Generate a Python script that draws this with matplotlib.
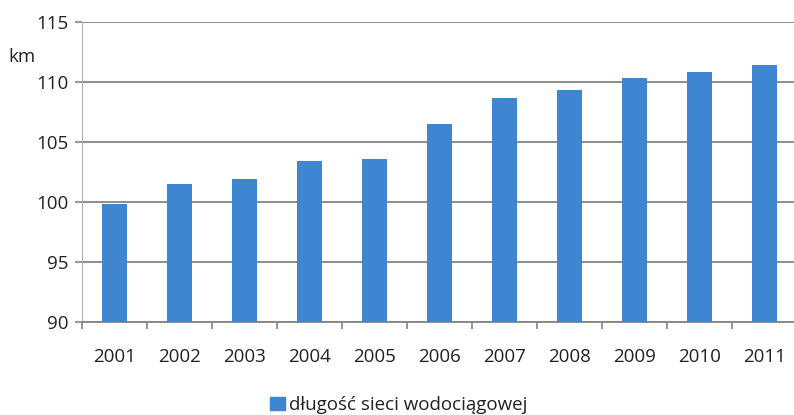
import numpy as np
import matplotlib.pyplot as plt
from matplotlib.patches import Patch

years = ["2001", "2002", "2003", "2004", "2005", "2006",
         "2007", "2008", "2009", "2010", "2011"]
network_km = [99.8, 101.5, 101.9, 103.4, 103.6, 106.5,
              108.7, 109.3, 110.3, 110.8, 111.4]
series_label = "długość sieci wodociągowej"

plt.rcParams['font.family'] = ['Open Sans', 'DejaVu Sans']

bar_color = "#3f86d0"
grid_color = "#858585"
text_color = "#222222"
fs = 13.5

fig = plt.figure(figsize=(7.94, 4.15), dpi=100)
ax = fig.add_axes([82/794, 93/415, 715/794, 300/415])

x = np.arange(len(years))
ax.bar(x, network_km, width=0.39, color=bar_color, zorder=3)

ax.set_xlim(-0.5, len(years) - 0.5)
ax.set_ylim(90, 115)
ax.set_yticks(np.arange(90, 116, 5))
ax.yaxis.grid(True, color=grid_color, linewidth=1.3, zorder=0)

ax.set_xticks(x)
ax.set_xticklabels(years)
ax.set_xticks(np.arange(-0.5, len(years), 1.0), minor=True)
ax.tick_params(axis="x", which="major", length=0, pad=19,
               labelsize=fs, labelcolor=text_color)
ax.tick_params(axis="x", which="minor", length=5, width=1.2,
               color=grid_color, direction="out")
ax.tick_params(axis="y", length=5, width=1.2, color=grid_color,
               labelsize=fs, labelcolor=text_color, pad=5)

for side in ["top", "right"]:
    ax.spines[side].set_visible(False)
ax.spines["left"].set_color("#b0b0b0")
ax.spines["bottom"].set_color(grid_color)
ax.spines["bottom"].set_linewidth(1.3)

fig.text(8/794, 1 - 57/415, "km", fontsize=fs, color=text_color,
         va="center", ha="left")

fig.legend(handles=[Patch(color=bar_color, label=series_label)],
           loc="center", bbox_to_anchor=(399/794, 1 - 405/415),
           frameon=False, fontsize=fs, handlelength=0.75,
           handleheight=0.75, handletextpad=0.25, labelcolor=text_color)

fig.savefig("out.png", dpi=100)
